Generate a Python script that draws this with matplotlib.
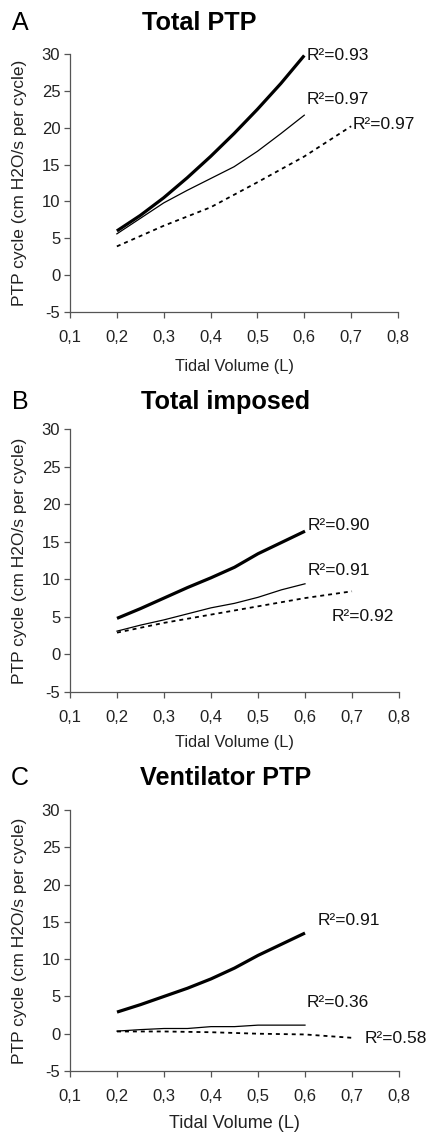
import matplotlib
matplotlib.use("Agg")
import matplotlib.pyplot as plt

plt.rcParams['font.family'] = ['Liberation Sans', 'DejaVu Sans']
plt.rcParams['axes.unicode_minus'] = False

# panel A - Total PTP
a_x_short = [0.2, 0.25, 0.3, 0.35, 0.4, 0.45, 0.5, 0.55, 0.6]
a_thick = [6.0, 8.1, 10.5, 13.2, 16.1, 19.2, 22.5, 26.0, 29.8]
a_thin = [5.6, 7.7, 9.8, 11.5, 13.1, 14.7, 16.8, 19.2, 21.7]
a_x_long = [0.2, 0.3, 0.4, 0.5, 0.6, 0.7]
a_dot = [3.9, 6.7, 9.2, 12.6, 16.1, 20.2]

# panel B - Total imposed
b_thick = [4.8, 6.1, 7.5, 8.9, 10.2, 11.6, 13.4, 14.9, 16.4]
b_thin = [3.1, 3.9, 4.6, 5.4, 6.2, 6.8, 7.6, 8.6, 9.4]
b_dot = [2.9, 4.2, 5.3, 6.4, 7.5, 8.4]

# panel C - Ventilator PTP
c_thick = [2.9, 3.9, 5.0, 6.1, 7.35, 8.8, 10.5, 12.0, 13.5]
c_thin = [0.35, 0.55, 0.7, 0.7, 0.95, 0.95, 1.15, 1.15, 1.15]
c_dot = [0.3, 0.3, 0.2, 0.0, -0.1, -0.55]

xticks = [0.1, 0.2, 0.3, 0.4, 0.5, 0.6, 0.7, 0.8]
xticklabels = ["0,1", "0,2", "0,3", "0,4", "0,5", "0,6", "0,7", "0,8"]
yticks = [-5, 0, 5, 10, 15, 20, 25, 30]

panels = [
    ("A", "Total PTP", a_thick, a_thin, a_dot,
     [("R²=0.93", 0.606, 29.8), ("R²=0.97", 0.606, 23.8), ("R²=0.97", 0.704, 20.4)]),
    ("B", "Total imposed", b_thick, b_thin, b_dot,
     [("R²=0.90", 0.606, 17.2), ("R²=0.91", 0.606, 11.2), ("R²=0.92", 0.657, 5.1)]),
    ("C", "Ventilator PTP", c_thick, c_thin, c_dot,
     [("R²=0.91", 0.627, 15.2), ("R²=0.36", 0.604, 4.2), ("R²=0.58", 0.727, -0.6)]),
]

W, H = 430, 1135
fig = plt.figure(figsize=(W / 100, H / 100), dpi=100)

# pixel boxes: (left, top, right, bottom), title x, title y, xlabel y, xlabel size
boxes = [
    ((70, 54, 398, 312), 199, 23, 366, 11.8),
    ((70, 429, 399, 692), 226, 402, 743, 11.8),
    ((70, 810, 399, 1071), 226, 778, 1123, 13),
]

grey = "#555555"
for (letter, title, thick, thin, dot, notes), (box, tx, ty, xly, xls) in zip(panels, boxes):
    l, t, r, b = box
    ax = fig.add_axes([l / W, 1 - b / H, (r - l) / W, (b - t) / H])
    ax.plot(a_x_short, thick, color="black", lw=2.3, solid_capstyle="butt")
    ax.plot(a_x_short, thin, color="black", lw=0.9)
    ax.plot(a_x_long, dot, color="black", lw=1.3, linestyle=(0, (2.2, 2.2)))
    for txt, x, y in notes:
        ax.text(x, y, txt, fontsize=12.5, va="center", ha="left", color="#111111")

    ax.set_xlim(0.1, 0.8)
    ax.set_ylim(-5, 30)
    ax.set_xticks(xticks)
    ax.set_xticklabels(xticklabels)
    ax.set_yticks(yticks)
    for s in ["top", "right"]:
        ax.spines[s].set_visible(False)
    for s in ["left", "bottom"]:
        ax.spines[s].set_color(grey)
        ax.spines[s].set_linewidth(0.9)
    ax.tick_params(axis="both", direction="out", length=4, width=0.9, color=grey,
                   labelsize=12, labelcolor="#222222")
    ax.tick_params(axis="x", pad=9)
    ax.tick_params(axis="y", pad=3)

    ax.set_xlabel("Tidal Volume (L)", fontsize=xls, color="#222222")
    ax.xaxis.label.set_va("center")
    ax.xaxis.set_label_coords((234 - l) / (r - l), -(xly - b) / (b - t))
    ax.set_ylabel("PTP cycle (cm H2O/s per cycle)", fontsize=12.5, color="#222222")
    ax.yaxis.label.set_va("center")
    ax.yaxis.set_label_coords((20 - l) / (r - l), 0.5)

    fig.text(20 / W, 1 - ty / H, letter, fontsize=18, ha="center", va="center")
    fig.text(tx / W, 1 - ty / H, title, fontsize=18.2, fontweight="bold",
             ha="center", va="center")

fig.savefig("out.png", dpi=100)
